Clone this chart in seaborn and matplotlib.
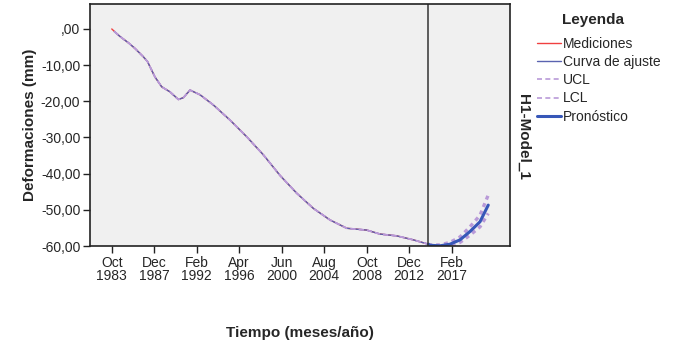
import matplotlib
matplotlib.use("Agg")
import matplotlib.pyplot as plt
import seaborn as sns

# meses desde Oct 1983 y deformaciones (mm)
hist_meses = [0, 9.8, 20.0, 27.4, 37.2, 42.0, 45.1, 50.9, 58.8, 68.6, 78.4, 84.2, 92.1, 103.9,
              119.5, 139.2, 158.8, 178.4, 198.0, 217.6, 237.2, 256.8, 276.5, 300.0,
              315.6, 335.3, 354.8, 372.5]
mediciones = [0, -2.1, -3.9, -5.4, -7.7, -9.0, -10.5, -13.3, -16.0, -17.4, -19.5, -19.0, -16.9, -18.2,
              -21.0, -25.2, -29.8, -34.8, -40.5, -45.4, -49.6, -52.8, -55.1, -55.6,
              -56.7, -57.2, -58.3, -59.5]
ajuste_meses = [3.0] + hist_meses[1:]
ajuste = [-0.7] + mediciones[1:]

prono_meses = [372.5, 374.5, 386.2, 398.0, 409.8, 421.5, 433.3, 443.0]
pronostico = [-59.5, -59.8, -59.95, -59.5, -58.3, -56.0, -53.3, -48.7]
ucl_prono = [-59.5, -59.7, -59.7, -59.0, -57.5, -54.7, -51.5, -45.9]
lcl_prono = [-59.5, -59.9, -60.0, -60.0, -59.0, -57.0, -54.7, -51.0]

inicio_pronostico = 372.5

tick_meses = [0, 50, 100, 150, 200, 250, 300, 350, 400]
tick_etiquetas = ["Oct\n1983", "Dec\n1987", "Feb\n1992", "Apr\n1996", "Jun\n2000",
                  "Aug\n2004", "Oct\n2008", "Dec\n2012", "Feb\n2017"]
y_ticks = [0, -10, -20, -30, -40, -50, -60]
y_etiquetas = [",00", "-10,00", "-20,00", "-30,00", "-40,00", "-50,00", "-60,00"]

sns.set_style("ticks", {"axes.facecolor": "#f0f0f0", "axes.edgecolor": "#222222"})
plt.rcParams["font.family"] = ["Liberation Sans", "DejaVu Sans"]

fig = plt.figure(figsize=(6.76, 3.54), dpi=100)
ax = fig.add_axes([90 / 676, 1 - 246 / 354, 420 / 676, 242 / 354])

c_red = "#f04040"
c_fit = "#5a63b0"
c_lim = "#b99ad8"
c_pro = "#3757b8"

sns.lineplot(x=hist_meses, y=mediciones, ax=ax, color=c_red, lw=1.0, sort=False,
             estimator=None, label="Mediciones")
sns.lineplot(x=ajuste_meses, y=ajuste, ax=ax, color=c_fit, lw=1.0, sort=False,
             estimator=None, label="Curva de ajuste")
sns.lineplot(x=ajuste_meses, y=ajuste, ax=ax, color=c_lim, lw=1.2, sort=False,
             estimator=None, label="UCL", linestyle=(0, (3, 2)))
sns.lineplot(x=ajuste_meses, y=ajuste, ax=ax, color=c_lim, lw=1.2, sort=False,
             estimator=None, label="LCL", linestyle=(0, (3, 2)))
sns.lineplot(x=prono_meses, y=ucl_prono, ax=ax, color=c_lim, lw=2.4, sort=False,
             estimator=None, linestyle=(0, (1.2, 1.2)))
sns.lineplot(x=prono_meses, y=lcl_prono, ax=ax, color=c_lim, lw=2.4, sort=False,
             estimator=None, linestyle=(0, (1.2, 1.2)))
sns.lineplot(x=prono_meses, y=pronostico, ax=ax, color=c_pro, lw=2.2, sort=False,
             estimator=None, label="Pronóstico")

ax.axvline(inicio_pronostico, color="#333333", lw=1.1)

ax.set_xlim(-25.6, 468.6)
ax.set_ylim(-60, 6.9)
ax.set_xticks(tick_meses)
ax.set_xticklabels(tick_etiquetas, fontsize=10, linespacing=0.95)
ax.set_yticks(y_ticks)
ax.set_yticklabels(y_etiquetas, fontsize=10)
ax.tick_params(axis="both", direction="out", length=5, width=1, color="#222222", pad=2)
for s in ax.spines.values():
    s.set_linewidth(1.2)

ax.set_xlabel("Tiempo (meses/año)", fontsize=11, fontweight="bold", labelpad=31)
ax.set_ylabel("Deformaciones (mm)", fontsize=11, fontweight="bold", labelpad=3)

handles, labels = ax.get_legend_handles_labels()
ax.get_legend().remove()
leg = fig.legend(handles, labels, loc="upper left",
                 bbox_to_anchor=(537 / 676, 1 - 37 / 354), frameon=False,
                 fontsize=10, handlelength=1.75, handletextpad=0.1,
                 labelspacing=0.3, borderaxespad=0, borderpad=0)
fig.text(593 / 676, 1 - 20 / 354, "Leyenda", fontsize=11, fontweight="bold",
         ha="center", va="center")

fig.text(523 / 676, 1 - 137 / 354, "H1-Model_1", rotation=270, fontsize=11,
         fontweight="bold", ha="center", va="center")

fig.savefig("out.png", dpi=100)
